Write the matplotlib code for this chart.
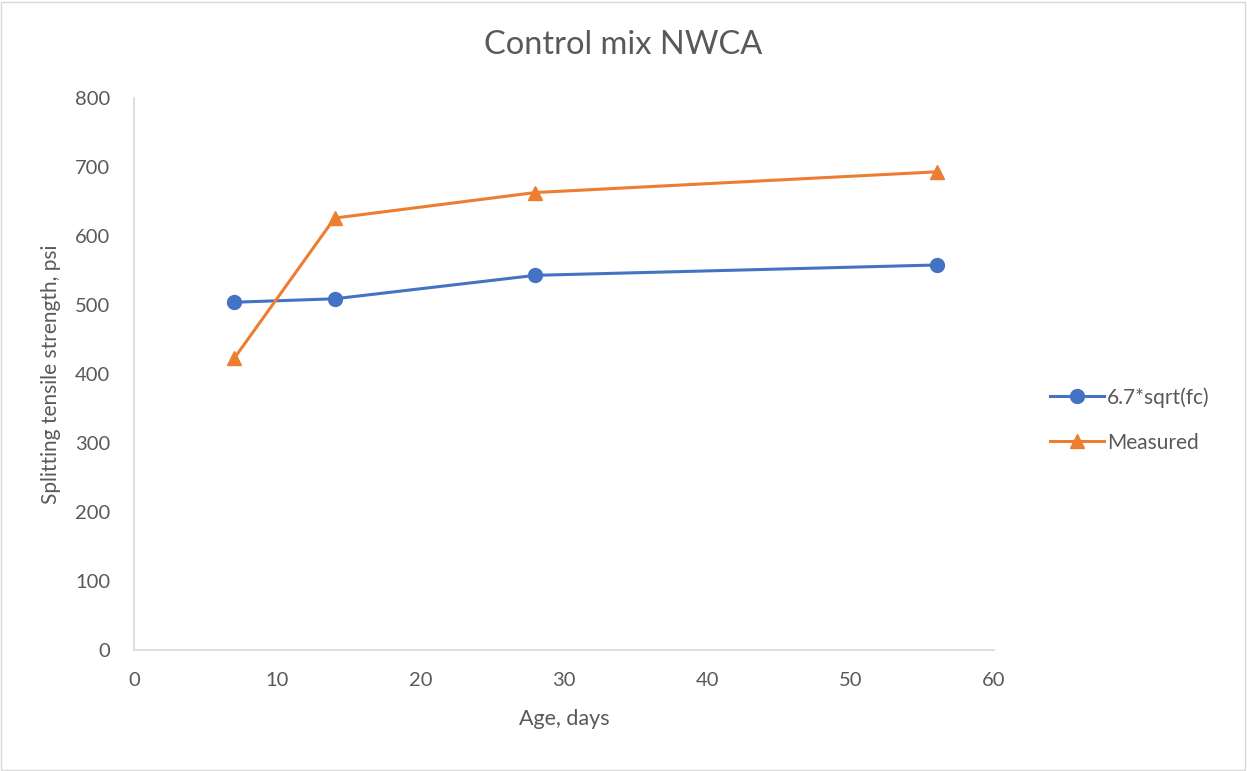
import matplotlib.pyplot as plt
from matplotlib.patches import Rectangle

# data
age = [7, 14, 28, 56]
predicted = [504, 509, 543, 558]
measured = [423, 626, 663, 693]

x_ticks = [0, 10, 20, 30, 40, 50, 60]
y_ticks = [0, 100, 200, 300, 400, 500, 600, 700, 800]

plt.rcParams['font.family'] = ['Lato', 'DejaVu Sans']
grey = '#595959'
axis_col = '#D9D9D9'

fig = plt.figure(figsize=(12.47, 7.71), dpi=100)
ax = fig.add_axes([134 / 1247, 1 - 650 / 771, (994 - 134) / 1247, (650 - 98) / 771])

ax.plot(age, predicted, color='#4472C4', lw=2.2, marker='o', ms=10, label='6.7*sqrt(fc)')
ax.plot(age, measured, color='#ED7D31', lw=2.2, marker='^', ms=10, label='Measured')

ax.set_xlim(0, 60)
ax.set_ylim(0, 800)
ax.set_xticks(x_ticks)
ax.set_yticks(y_ticks)
ax.tick_params(length=0, labelsize=14.5, labelcolor=grey)
ax.tick_params(axis='y', pad=17)
ax.tick_params(axis='x', pad=16)
for s in ['top', 'right']:
    ax.spines[s].set_visible(False)
for s in ['left', 'bottom']:
    ax.spines[s].set_color(axis_col)
    ax.spines[s].set_linewidth(1.2)

ax.set_xlabel('Age, days', fontsize=15.5, color=grey, labelpad=14)
ax.set_ylabel('Splitting tensile strength, psi', fontsize=15, color=grey, labelpad=10)
fig.suptitle('Control mix NWCA', fontsize=23.5, color=grey, y=1 - 45 / 771, va='center')

leg = ax.legend(loc='center left', bbox_to_anchor=(1.043, 0.417), frameon=False,
                fontsize=15, labelcolor=grey, handlelength=2.6, handletextpad=0.15,
                labelspacing=1.2)

fig.patches.append(Rectangle((0.001, 0.001), 0.997, 0.997, transform=fig.transFigure,
                             fill=False, edgecolor=axis_col, lw=1))

fig.savefig('out.png', dpi=100)
